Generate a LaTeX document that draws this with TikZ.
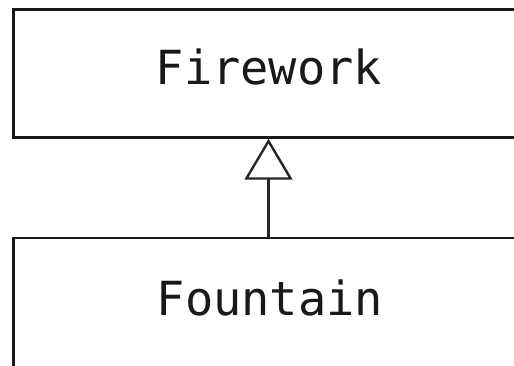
\documentclass[tikz,border=0pt]{standalone}
\usepackage{fontspec}
\setmonofont{DejaVu Sans Mono}
\usetikzlibrary{arrows.meta}
\begin{document}
\begin{tikzpicture}[x=1pt,y=1pt,
  classbox/.style={draw=black!90, line width=2.5pt, rectangle, inner sep=0pt},
  classname/.style={font=\ttfamily\fontsize{47}{50}\selectfont, inner sep=0pt, text=black!90},
  inherit/.style={draw=black!85, line width=2.4pt, -{Triangle[open, length=41pt, width=48pt, line width=2.4pt]}}]
\useasboundingbox (0,0) rectangle (514,-366);
\node[classbox, minimum width=510pt, minimum height=128pt] (firework) at (268.5,-73.5) {};
\node[classbox, minimum width=510pt, minimum height=200pt] (fountain) at (268.5,-338) {};
\node[classname, anchor=base] (fireworktxt) at (269,-85) {Firework};
\node[classname, anchor=base] (fountaintxt) at (270,-315) {Fountain};
\draw[inherit] (fountain.north) -- (firework.south);
\end{tikzpicture}
\end{document}
